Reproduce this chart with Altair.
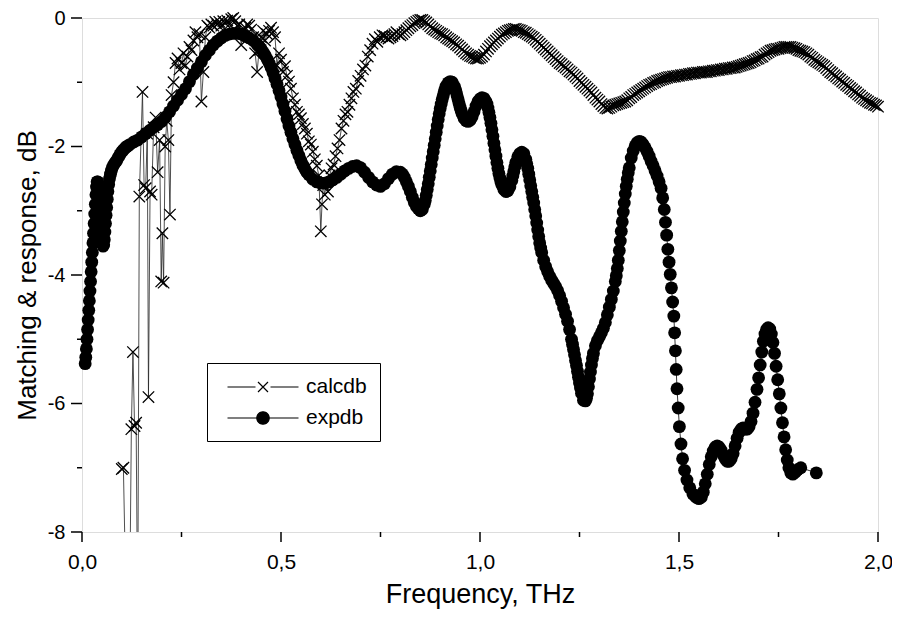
import math
import altair as alt
import pandas as pd

# ---------------- data ----------------
calc_x = [
    0.100, 0.104, 0.112, 0.120, 0.124, 0.128, 0.132, 0.136, 0.140, 0.144,
    0.152, 0.156, 0.160, 0.164, 0.167, 0.171, 0.175, 0.180, 0.185, 0.190,
    0.195, 0.199, 0.202, 0.205, 0.209, 0.213, 0.217, 0.221, 0.225, 0.230,
    0.235, 0.240, 0.245, 0.250, 0.255, 0.260, 0.265, 0.270, 0.275, 0.280,
    0.285, 0.290, 0.295, 0.300, 0.305, 0.310, 0.315, 0.320, 0.325, 0.330,
    0.335, 0.340, 0.345, 0.350, 0.355, 0.360, 0.365, 0.370, 0.375, 0.380,
    0.385, 0.390, 0.395, 0.400, 0.405, 0.410, 0.415, 0.420, 0.425, 0.430,
    0.435, 0.440, 0.445, 0.450, 0.455, 0.460, 0.465, 0.470, 0.475, 0.480,
    0.485, 0.490, 0.495, 0.500, 0.505, 0.510, 0.515, 0.520, 0.525, 0.530,
    0.535, 0.540, 0.545, 0.550, 0.555, 0.560, 0.565, 0.570, 0.575, 0.580,
    0.585, 0.590, 0.595, 0.600, 0.603, 0.606, 0.610, 0.614, 0.618, 0.622,
    0.627, 0.632, 0.637, 0.642, 0.647, 0.652, 0.657, 0.662, 0.667, 0.672,
    0.677, 0.682, 0.688, 0.694, 0.700, 0.706, 0.712, 0.718, 0.724, 0.730,
    0.736, 0.742, 0.748,
    0.76, 0.77, 0.78, 0.79, 0.80, 0.81, 0.82, 0.83, 0.84, 0.85,
    0.86, 0.87, 0.88, 0.89, 0.90, 0.91, 0.92, 0.93, 0.94, 0.95,
    0.96, 0.97, 0.98, 0.99, 1.00, 1.01, 1.02, 1.03, 1.04, 1.05,
    1.06, 1.07, 1.08, 1.09, 1.10, 1.11, 1.12, 1.13, 1.14, 1.15,
    1.16, 1.17, 1.18, 1.19, 1.20, 1.21, 1.22, 1.23, 1.24, 1.25,
    1.26, 1.27, 1.28, 1.29, 1.30, 1.31, 1.32, 1.33, 1.34, 1.35,
    1.36, 1.37, 1.38, 1.39, 1.40, 1.41, 1.42, 1.43, 1.44, 1.45,
    1.46, 1.47, 1.48, 1.49, 1.50, 1.51, 1.52, 1.53, 1.54, 1.55,
    1.56, 1.57, 1.58, 1.59, 1.60, 1.61, 1.62, 1.63, 1.64, 1.65,
    1.66, 1.67, 1.68, 1.69, 1.70, 1.71, 1.72, 1.73, 1.74, 1.75,
    1.76, 1.77, 1.78, 1.79, 1.80, 1.81, 1.82, 1.83, 1.84, 1.85,
    1.86, 1.87, 1.88, 1.89, 1.90, 1.91, 1.92, 1.93, 1.94, 1.95,
    1.96, 1.97, 1.98, 1.99, 2.00,
]
calc_y = [
    -7.02, -7.00, -9.50, -9.00, -6.40, -5.20, -6.35, -6.30, -9.50, -2.78,
    -1.15, -2.60, -2.65, -1.80, -5.90, -2.70, -2.75, -1.70, -1.55, -2.40,
    -1.90, -4.10, -3.35, -4.12, -2.00, -1.60, -1.90, -3.06, -1.20, -1.00,
    -0.70, -0.63, -0.80, -0.70, -0.55, -0.74, -0.60, -0.45, -0.50, -0.35,
    -0.22, -0.30, -0.25, -1.30, -0.84, -0.30, -0.12, -0.15, -0.10, -0.12,
    -0.06, -0.10, -0.06, -0.12, -0.05, -0.08, -0.04, -0.10, -0.02, 0.00,
    -0.05, -0.12, -0.10, -0.42, -0.20, -0.15, -0.10, -0.12, -0.18, -0.30,
    -0.55, -0.84, -0.50, -0.30, -0.20, -0.35, -0.25, -0.20, -0.15, -0.22,
    -0.30, -0.74, -0.55, -0.65, -0.84, -0.75, -0.90, -0.99, -1.10, -1.25,
    -1.35, -1.46, -1.50, -1.56, -1.65, -1.72, -1.80, -1.92, -1.97, -2.08,
    -2.20, -2.30, -2.45, -3.32, -2.90, -2.60, -2.75, -2.55, -2.70, -2.45,
    -2.34, -2.28, -2.15, -2.03, -1.90, -1.72, -1.60, -1.50, -1.46, -1.35,
    -1.25, -1.15, -1.10, -0.98, -0.90, -0.80, -0.74, -0.60, -0.50, -0.40,
    -0.33, -0.37, -0.30,
    -0.28, -0.32, -0.28, -0.22, -0.27, -0.22, -0.16, -0.11, -0.06, -0.03,
    -0.05, -0.10, -0.16, -0.20, -0.24, -0.27, -0.32, -0.36, -0.41, -0.46,
    -0.52, -0.57, -0.60, -0.63, -0.62, -0.57, -0.48, -0.41, -0.35, -0.29,
    -0.24, -0.20, -0.18, -0.17, -0.19, -0.22, -0.25, -0.29, -0.34, -0.40,
    -0.46, -0.52, -0.58, -0.64, -0.70, -0.75, -0.80, -0.85, -0.91, -0.98,
    -1.04, -1.10, -1.16, -1.24, -1.30, -1.37, -1.41, -1.38, -1.35, -1.33,
    -1.31, -1.28, -1.23, -1.18, -1.14, -1.10, -1.06, -1.03, -1.00, -0.97,
    -0.95, -0.93, -0.92, -0.91, -0.90, -0.89, -0.88, -0.87, -0.86, -0.85,
    -0.84, -0.84, -0.83, -0.82, -0.81, -0.80, -0.79, -0.78, -0.77, -0.75,
    -0.73, -0.71, -0.69, -0.66, -0.63, -0.60, -0.55, -0.51, -0.49, -0.48,
    -0.46, -0.45, -0.45, -0.47, -0.50, -0.52, -0.55, -0.60, -0.65, -0.69,
    -0.73, -0.78, -0.84, -0.89, -0.94, -0.99, -1.04, -1.09, -1.14, -1.19,
    -1.24, -1.28, -1.32, -1.35, -1.38,
]
# calcdb markers lying between the ones above (0.755 ... 1.995)
calc_x_mid = [
    0.755, 0.765, 0.775, 0.785, 0.795, 0.805, 0.815, 0.825, 0.835, 0.845,
    0.855, 0.865, 0.875, 0.885, 0.895, 0.905, 0.915, 0.925, 0.935, 0.945,
    0.955, 0.965, 0.975, 0.985, 0.995, 1.005, 1.015, 1.025, 1.035, 1.045,
    1.055, 1.065, 1.075, 1.085, 1.095, 1.105, 1.115, 1.125, 1.135, 1.145,
    1.155, 1.165, 1.175, 1.185, 1.195, 1.205, 1.215, 1.225, 1.235, 1.245,
    1.255, 1.265, 1.275, 1.285, 1.295, 1.305, 1.315, 1.325, 1.335, 1.345,
    1.355, 1.365, 1.375, 1.385, 1.395, 1.405, 1.415, 1.425, 1.435, 1.445,
    1.455, 1.465, 1.475, 1.485, 1.495, 1.505, 1.515, 1.525, 1.535, 1.545,
    1.555, 1.565, 1.575, 1.585, 1.595, 1.605, 1.615, 1.625, 1.635, 1.645,
    1.655, 1.665, 1.675, 1.685, 1.695, 1.705, 1.715, 1.725, 1.735, 1.745,
    1.755, 1.765, 1.775, 1.785, 1.795, 1.805, 1.815, 1.825, 1.835, 1.845,
    1.855, 1.865, 1.875, 1.885, 1.895, 1.905, 1.915, 1.925, 1.935, 1.945,
    1.955, 1.965, 1.975, 1.985, 1.995,
]
calc_y_mid = [
    -0.27, -0.30, -0.30, -0.25, -0.25, -0.25, -0.19, -0.13, -0.08, -0.04,
    -0.03, -0.07, -0.13, -0.18, -0.22, -0.25, -0.30, -0.34, -0.38, -0.43,
    -0.49, -0.55, -0.59, -0.62, -0.63, -0.60, -0.52, -0.44, -0.38, -0.32,
    -0.26, -0.22, -0.19, -0.17, -0.18, -0.20, -0.23, -0.27, -0.31, -0.37,
    -0.43, -0.49, -0.55, -0.61, -0.67, -0.72, -0.77, -0.83, -0.88, -0.94,
    -1.01, -1.07, -1.13, -1.20, -1.27, -1.34, -1.40, -1.40, -1.36, -1.34,
    -1.32, -1.30, -1.25, -1.20, -1.16, -1.12, -1.08, -1.04, -1.01, -0.98,
    -0.96, -0.94, -0.92, -0.91, -0.90, -0.89, -0.88, -0.87, -0.86, -0.85,
    -0.85, -0.84, -0.83, -0.82, -0.81, -0.80, -0.79, -0.78, -0.77, -0.76,
    -0.74, -0.72, -0.70, -0.67, -0.64, -0.61, -0.57, -0.53, -0.50, -0.48,
    -0.47, -0.45, -0.45, -0.46, -0.48, -0.51, -0.53, -0.57, -0.62, -0.67,
    -0.71, -0.75, -0.81, -0.86, -0.91, -0.96, -1.01, -1.06, -1.11, -1.16,
    -1.21, -1.26, -1.30, -1.33, -1.36,
]

# expdb, read in short stretches (frequency list, then dB list)
exp_x_a = [
    0.008, 0.0095, 0.011, 0.0125, 0.014, 0.0155, 0.017, 0.0185, 0.020, 0.0215,
    0.023, 0.0245, 0.026, 0.0275, 0.029, 0.0305, 0.032, 0.0335, 0.035, 0.0365,
    0.038, 0.0395, 0.041, 0.0425, 0.044, 0.0455, 0.047, 0.0485, 0.050, 0.0515,
    0.053, 0.0545, 0.056, 0.0575, 0.059, 0.0605, 0.062, 0.0635, 0.065, 0.067,
    0.069, 0.0715, 0.074, 0.077, 0.080, 0.0835, 0.087, 0.091, 0.095, 0.099,
    0.103, 0.107, 0.111, 0.115,
]
exp_y_a = [
    -5.38, -5.28, -5.15, -5.00, -4.85, -4.70, -4.55, -4.40, -4.25, -4.10,
    -3.95, -3.80, -3.65, -3.50, -3.35, -3.20, -3.05, -2.90, -2.75, -2.63,
    -2.55, -2.55, -2.62, -2.73, -2.86, -3.00, -3.15, -3.28, -3.40, -3.50,
    -3.55, -3.53, -3.45, -3.33, -3.20, -3.07, -2.95, -2.82, -2.70, -2.59,
    -2.50, -2.43, -2.37, -2.32, -2.28, -2.25, -2.22, -2.17, -2.13, -2.09,
    -2.06, -2.03, -2.01, -1.99,
]
exp_x_b = [
    0.12, 0.13, 0.14, 0.15, 0.16, 0.17, 0.18, 0.19, 0.20, 0.21,
    0.22, 0.23, 0.24, 0.25, 0.26, 0.27, 0.28, 0.29, 0.30, 0.31,
    0.32, 0.33, 0.34, 0.35, 0.36, 0.37, 0.38, 0.39, 0.40, 0.41,
    0.42, 0.43, 0.44, 0.445, 0.45, 0.455, 0.46, 0.465, 0.47, 0.475,
    0.48, 0.485, 0.49, 0.495, 0.50, 0.505, 0.51, 0.515, 0.52, 0.525,
    0.53, 0.535, 0.54, 0.545, 0.55, 0.555, 0.56, 0.565, 0.57, 0.58,
    0.59, 0.60, 0.61, 0.62, 0.63, 0.64, 0.65, 0.66, 0.67, 0.68,
    0.69, 0.70, 0.71, 0.72, 0.73, 0.74, 0.75, 0.76, 0.77, 0.78,
    0.79, 0.80, 0.805, 0.81, 0.815, 0.82, 0.825, 0.83, 0.835, 0.84,
    0.845, 0.85, 0.855, 0.86,
]
exp_y_b = [
    -1.97, -1.93, -1.90, -1.85, -1.80, -1.75, -1.70, -1.66, -1.61, -1.54,
    -1.46, -1.37, -1.28, -1.19, -1.10, -0.99, -0.88, -0.78, -0.68, -0.58,
    -0.50, -0.42, -0.36, -0.31, -0.27, -0.25, -0.24, -0.24, -0.25, -0.28,
    -0.31, -0.35, -0.41, -0.44, -0.48, -0.53, -0.58, -0.64, -0.70, -0.77,
    -0.85, -0.94, -1.03, -1.13, -1.23, -1.34, -1.45, -1.57, -1.68, -1.78,
    -1.88, -1.97, -2.06, -2.14, -2.22, -2.29, -2.35, -2.40, -2.44, -2.51,
    -2.55, -2.57, -2.57, -2.55, -2.52, -2.48, -2.43, -2.38, -2.34, -2.31,
    -2.30, -2.33, -2.40, -2.48, -2.55, -2.60, -2.62, -2.58, -2.50, -2.43,
    -2.39, -2.40, -2.43, -2.48, -2.55, -2.62, -2.70, -2.79, -2.87, -2.93,
    -2.97, -3.00, -2.98, -2.90,
]
exp_x_c = [
    0.8625, 0.865, 0.8675, 0.87, 0.8725, 0.875, 0.8775, 0.88, 0.8825, 0.885,
    0.8875, 0.89, 0.8925, 0.895, 0.8975, 0.90, 0.9025, 0.905, 0.9075, 0.91,
    0.9125, 0.915, 0.92, 0.925, 0.93, 0.935, 0.9375, 0.94, 0.9425, 0.945,
    0.9475, 0.95, 0.9525, 0.955, 0.96, 0.965, 0.97, 0.975, 0.98, 0.985,
    0.99, 0.995, 1.00, 1.005, 1.01, 1.015, 1.0175, 1.02, 1.0225, 1.025,
    1.0275, 1.03, 1.0325, 1.035, 1.0375, 1.04, 1.0425, 1.045, 1.0475, 1.05,
    1.0525, 1.055, 1.06, 1.065, 1.07, 1.075, 1.08, 1.0825, 1.085, 1.0875,
    1.09, 1.095, 1.10, 1.105, 1.11, 1.115, 1.1175, 1.12, 1.1225, 1.125,
    1.1275, 1.13, 1.1325, 1.135, 1.1375, 1.14, 1.1425, 1.145, 1.1475, 1.15,
    1.1525, 1.155,
]
exp_y_c = [
    -2.84, -2.76, -2.67, -2.58, -2.48, -2.38, -2.28, -2.18, -2.08, -1.98,
    -1.88, -1.78, -1.68, -1.58, -1.49, -1.41, -1.34, -1.27, -1.21, -1.15,
    -1.10, -1.06, -1.01, -0.99, -1.00, -1.06, -1.10, -1.15, -1.21, -1.27,
    -1.33, -1.39, -1.44, -1.49, -1.56, -1.60, -1.61, -1.59, -1.54, -1.46,
    -1.37, -1.30, -1.26, -1.24, -1.25, -1.30, -1.34, -1.40, -1.47, -1.55,
    -1.64, -1.74, -1.84, -1.95, -2.05, -2.15, -2.25, -2.34, -2.42, -2.49,
    -2.55, -2.60, -2.67, -2.70, -2.69, -2.63, -2.53, -2.46, -2.39, -2.32,
    -2.25, -2.16, -2.11, -2.09, -2.11, -2.20, -2.27, -2.34, -2.43, -2.52,
    -2.61, -2.70, -2.79, -2.88, -2.98, -3.08, -3.19, -3.30, -3.40, -3.50,
    -3.58, -3.65,
]
exp_x_d = [
    1.16, 1.165, 1.17, 1.175, 1.18, 1.185, 1.19, 1.195, 1.20, 1.205,
    1.21, 1.215, 1.22, 1.225, 1.23, 1.2325, 1.235, 1.2375, 1.24, 1.2425,
    1.245, 1.2475, 1.25, 1.2525, 1.255, 1.26, 1.265, 1.2675, 1.27, 1.2725,
    1.275, 1.2775, 1.28, 1.2825, 1.285, 1.29, 1.295, 1.30, 1.305, 1.31,
    1.315, 1.32, 1.325, 1.33, 1.335, 1.34, 1.3425, 1.345, 1.3475, 1.35,
    1.3525, 1.355, 1.3575, 1.36, 1.3625, 1.365, 1.3675, 1.37, 1.3725, 1.375,
    1.38, 1.385, 1.39, 1.395, 1.40,
]
exp_y_d = [
    -3.77, -3.87, -3.95, -4.02, -4.08, -4.13, -4.18, -4.24, -4.32, -4.41,
    -4.51, -4.61, -4.72, -4.85, -5.00, -5.08, -5.16, -5.24, -5.33, -5.41,
    -5.50, -5.59, -5.68, -5.76, -5.84, -5.95, -5.96, -5.92, -5.85, -5.74,
    -5.62, -5.51, -5.40, -5.30, -5.22, -5.10, -5.02, -4.96, -4.90, -4.83,
    -4.74, -4.62, -4.50, -4.38, -4.25, -4.10, -4.01, -3.90, -3.77, -3.62,
    -3.47, -3.32, -3.17, -3.02, -2.88, -2.74, -2.62, -2.51, -2.41, -2.33,
    -2.18, -2.07, -1.99, -1.94, -1.92,
]
exp_x_e = [
    1.405, 1.41, 1.415, 1.42, 1.425, 1.43, 1.435, 1.44, 1.445, 1.45,
    1.455, 1.459, 1.463, 1.466, 1.469, 1.472, 1.475, 1.478, 1.481, 1.484,
    1.487, 1.489, 1.491, 1.493, 1.495, 1.498, 1.501, 1.505, 1.509, 1.514,
    1.520, 1.527, 1.535, 1.543, 1.550, 1.556, 1.561, 1.566, 1.571, 1.576,
    1.581, 1.586, 1.591, 1.596, 1.601, 1.606, 1.611, 1.616, 1.621, 1.626,
    1.631, 1.636, 1.641, 1.646, 1.651, 1.656, 1.661, 1.666, 1.671, 1.676,
    1.681, 1.686, 1.691, 1.696, 1.700, 1.704, 1.708, 1.712, 1.716, 1.720,
    1.724, 1.728, 1.732, 1.736, 1.740, 1.744, 1.748, 1.752, 1.756, 1.760,
    1.764, 1.768, 1.772, 1.776, 1.781, 1.786, 1.792, 1.798, 1.806, 1.845,
]
exp_y_e = [
    -1.93, -1.97, -2.02, -2.08, -2.15, -2.23, -2.30, -2.38, -2.46, -2.55,
    -2.65, -2.80, -2.98, -3.18, -3.38, -3.60, -3.80, -3.99, -4.20, -4.42,
    -4.64, -4.90, -5.18, -5.47, -5.77, -6.07, -6.36, -6.63, -6.86, -7.04,
    -7.19, -7.31, -7.41, -7.46, -7.48, -7.46, -7.38, -7.25, -7.10, -6.95,
    -6.83, -6.74, -6.68, -6.66, -6.68, -6.73, -6.80, -6.86, -6.90, -6.90,
    -6.86, -6.78, -6.66, -6.54, -6.45, -6.40, -6.38, -6.40, -6.40, -6.36,
    -6.28, -6.15, -5.98, -5.78, -5.60, -5.40, -5.20, -5.03, -4.92, -4.85,
    -4.82, -4.84, -4.92, -5.05, -5.22, -5.42, -5.63, -5.85, -6.07, -6.30,
    -6.52, -6.72, -6.88, -7.00, -7.08, -7.10, -7.07, -7.03, -7.00, -7.08,
]

series_names = ["calcdb", "expdb"]
x_major = [0.0, 0.5, 1.0, 1.5, 2.0]
x_minor = [0.25, 0.75, 1.25, 1.75]
y_major = [-8, -6, -4, -2, 0]
y_minor = [-7, -5, -3, -1]
x_title = "Frequency, THz"
y_title = "Matching & response, dB"

# ---------------- styling helpers ----------------
FONT = "Liberation Sans"
X_GLYPH = "M-1,-1L1,1M-1,1L1,-1"
PLOT_W, PLOT_H = 796, 514
NBSP4 = "\u00a0\u00a0\u00a0\u00a0"


def circle_path(r, n=24):
    pts = ["%.3f,%.3f" % (r * math.cos(2 * math.pi * k / n), r * math.sin(2 * math.pi * k / n)) for k in range(n)]
    return "M" + "L".join(pts) + "Z"


LEG_CALC = "M-3.55,0L-0.75,0M0.75,0L3.55,0M-0.5,-0.5L0.5,0.5M-0.5,0.5L0.5,-0.5"
LEG_EXP = "M-3.55,0L-0.65,0M0.65,0L3.55,0" + circle_path(0.62)

calc = pd.DataFrame({"f": calc_x + calc_x_mid, "db": calc_y + calc_y_mid})
exp = pd.DataFrame({
    "f": exp_x_a + exp_x_b + exp_x_c + exp_x_d + exp_x_e,
    "db": exp_y_a + exp_y_b + exp_y_c + exp_y_d + exp_y_e,
})
leg = pd.DataFrame({"series": series_names, "f": [-1.0, -1.0], "db": [-4.0, -4.0]})

xs = alt.Scale(domain=[0, 2], nice=False, zero=False)
ys = alt.Scale(domain=[-8, 0], nice=False, zero=False)

x_axis = alt.Axis(values=x_major, orient="bottom", ticks=False, domain=False, grid=False,
                  labelFont=FONT, labelFontSize=21, labelColor="black", labelPadding=19,
                  labelFlush=False, labelExpr="replace(format(datum.value, '.1f'), '.', ',')",
                  title=x_title, titleFont=FONT, titleFontSize=27, titleFontWeight="normal",
                  titleColor="black", titlePadding=9)
y_axis = alt.Axis(values=y_major, orient="left", ticks=False, domain=False, grid=False,
                  labelFont=FONT, labelFontSize=20, labelColor="black", labelPadding=17,
                  labelFlush=False, labelExpr="'' + datum.value",
                  title=y_title, titleFont=FONT, titleFontSize=26, titleFontWeight="normal",
                  titleColor="black", titlePadding=7)

calc_line = alt.Chart(calc).mark_line(color="#222222", strokeWidth=0.8, clip=True).encode(
    x=alt.X("f:Q", scale=xs, axis=x_axis),
    y=alt.Y("db:Q", scale=ys, axis=y_axis),
    order="f:Q",
)
calc_pts = alt.Chart(calc).transform_filter("datum.db >= -8").mark_point(
    shape=X_GLYPH, filled=False, stroke="black", strokeWidth=1.3, size=130, opacity=1
).encode(
    x=alt.X("f:Q", scale=xs, axis=None),
    y=alt.Y("db:Q", scale=ys, axis=None),
)
exp_line = alt.Chart(exp).mark_line(color="black", strokeWidth=0.8, clip=True).encode(
    x=alt.X("f:Q", scale=xs, axis=None),
    y=alt.Y("db:Q", scale=ys, axis=None),
    order="f:Q",
)
exp_pts = alt.Chart(exp).mark_circle(size=165, color="black", opacity=1).encode(
    x=alt.X("f:Q", scale=xs, axis=None),
    y=alt.Y("db:Q", scale=ys, axis=None),
)


# tick marks (outward) at the tick values, drawn through the scales
def x_ticks(values, length):
    return alt.Chart(pd.DataFrame({"v": values})).mark_rule(color="black", strokeWidth=1.5).encode(
        x=alt.X("v:Q", scale=xs, axis=None),
        y=alt.value(PLOT_H), y2=alt.value(PLOT_H + length),
    )


def y_ticks(values, length):
    return alt.Chart(pd.DataFrame({"v": values})).mark_rule(color="black", strokeWidth=1.5).encode(
        y=alt.Y("v:Q", scale=ys, axis=None),
        x=alt.value(0), x2=alt.value(-length),
    )


legend_def = dict(orient="none", legendX=125, legendY=345, title=None, labelFont=FONT,
                  labelFontSize=21, labelColor="black", symbolSize=400, symbolStrokeWidth=1.2,
                  symbolOffset=32, labelOffset=32, padding=13,
                  rowPadding=10, strokeColor="black", labelExpr="datum.label + '" + NBSP4 + "'")

legend_layer = alt.Chart(leg).mark_point(filled=True, clip=True, opacity=1,
                                         strokeWidth=1.2, size=400).encode(
    x=alt.X("f:Q", scale=xs, axis=None),
    y=alt.Y("db:Q", scale=ys, axis=None),
    shape=alt.Shape("series:N", scale=alt.Scale(domain=series_names, range=[LEG_CALC, LEG_EXP]),
                    legend=alt.Legend(**legend_def)),
    fill=alt.Fill("series:N", scale=alt.Scale(domain=series_names, range=["transparent", "black"]),
                  legend=alt.Legend(**legend_def)),
    stroke=alt.Stroke("series:N", scale=alt.Scale(domain=series_names, range=["black", "black"]),
                      legend=alt.Legend(**legend_def)),
)

chart = (
    alt.layer(calc_line, calc_pts, exp_line, exp_pts,
              x_ticks(x_major, 10), x_ticks(x_minor, 5),
              y_ticks(y_major, 11), y_ticks(y_minor, 5),
              legend_layer)
    .resolve_axis(x="independent", y="independent")
    .properties(width=PLOT_W, height=PLOT_H, autosize=alt.AutoSizeParams(type="none"),
                padding={"left": 74, "top": 10, "right": 14, "bottom": 78}, background="white")
    .configure_view(stroke="black", strokeWidth=1.5)
    .configure_legend(strokeWidth=1.5)
    .configure(font=FONT)
)

chart.save("out.html", embed_options={"renderer": "svg", "actions": False})
